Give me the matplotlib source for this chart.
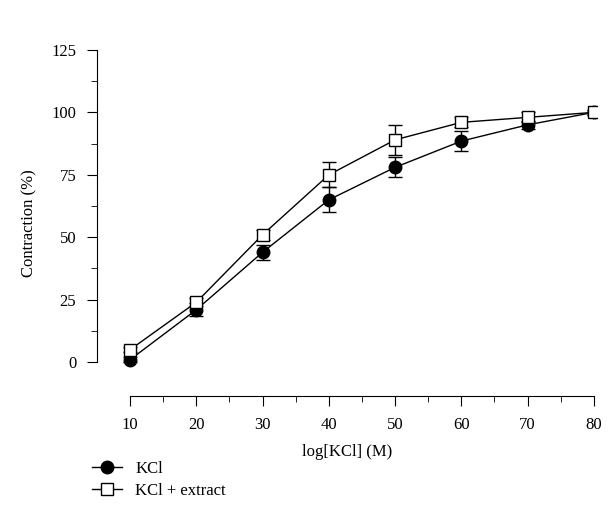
import matplotlib.pyplot as plt
from matplotlib.lines import Line2D

conc = [10, 20, 30, 40, 50, 60, 70, 80]
kcl = [1, 21, 44, 65, 78, 88.5, 95, 100]
kcl_err = [1, 2.5, 3, 5, 4, 4, 1.5, 1]
ext = [5, 24, 51, 75, 89, 96, 98, 100]
ext_err = [1, 1.5, 2, 5, 6, 2, 2, 1]

plt.rcParams['font.family'] = ['Liberation Serif', 'DejaVu Serif']
plt.rcParams['font.size'] = 12

fig = plt.figure(figsize=(6.1, 5.31), dpi=100)
ax = fig.add_axes([0.159, 0.254, 0.820, 0.652])

ax.errorbar(conc, kcl, yerr=kcl_err, color='black', marker='o', ms=9,
            mfc='black', lw=1, capsize=5)
ax.errorbar(conc, ext, yerr=ext_err, color='black', marker='s', ms=9,
            mfc='white', lw=1, capsize=5)

ax.set_xlim(5, 80.5)
ax.set_ylim(-13.6, 125)
ax.spines['top'].set_visible(False)
ax.spines['right'].set_visible(False)
ax.spines['bottom'].set_bounds(10, 80)
ax.spines['left'].set_bounds(0, 125)
ax.set_xticks(conc)
ax.set_xticks([15, 25, 35, 45, 55, 65, 75], minor=True)
ax.set_yticks([0, 25, 50, 75, 100, 125])
ax.set_yticks([12.5, 37.5, 62.5, 87.5, 112.5], minor=True)
ax.tick_params(direction='out', length=7, pad=8)
ax.tick_params(which='minor', direction='out', length=4)
ax.set_xlabel('log[KCl] (M)', labelpad=8)
ax.set_ylabel('Contraction (%)', labelpad=10)

handles = [
    Line2D([], [], color='black', lw=1, marker='o', ms=9, mfc='black'),
    Line2D([], [], color='black', lw=1, marker='s', ms=9, mfc='white'),
]
fig.legend(handles, ['KCl', 'KCl + extract'], loc='upper left',
           bbox_to_anchor=(0.14, 0.145), frameon=False,
           handlelength=1.8, borderaxespad=0, labelspacing=0.35)
fig.savefig('out.png')
